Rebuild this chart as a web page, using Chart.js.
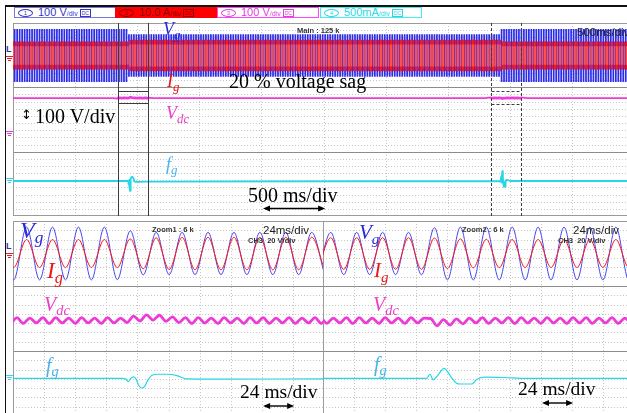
<!DOCTYPE html>
<html>
<head>
<meta charset="utf-8">
<title>Grid voltage sag response</title>
<script src="https://cdn.jsdelivr.net/npm/chart.js@4.4.1/dist/chart.umd.min.js"></script>
<style>
  html, body { margin:0; padding:0; background:#fff; overflow:hidden; }
  #scope { position:relative; width:627px; height:413px; overflow:hidden; background:#fff; }
  #scope canvas { position:absolute; }
  .rule { position:absolute; background:#111; }
  .chbox { position:absolute; top:7px; height:9px; width:100px; border:1px solid; box-sizing:content-box;
           font-family:"Liberation Sans", Arial, sans-serif; font-size:11px; line-height:9px; white-space:nowrap; overflow:hidden; }
  .chbox .num { display:inline-block; width:13px; height:6px; border:1px solid currentColor; border-radius:50%;
                font-size:6px; line-height:6px; text-align:center; margin:0 5px 0 3px; vertical-align:top; margin-top:0.5px; }
  .chbox .per { font-size:7px; }
  .chbox .ico { display:inline-block; font-size:5px; line-height:6px; border:1px solid currentColor; padding:0 1px; margin-left:2px; vertical-align:top; margin-top:0.5px; }
  .lab { position:absolute; font-family:"Liberation Serif", "Times New Roman", serif; line-height:1; white-space:nowrap; }
  .lab i { font-style:italic; }
  .lab .sub { font-style:italic; font-size:0.72em; position:relative; top:0.3em; }
  .txt { position:absolute; font-family:"Liberation Serif", "Times New Roman", serif; line-height:1; white-space:nowrap; color:#000; }
  .scr { position:absolute; font-family:"Liberation Sans", Arial, sans-serif; line-height:1; white-space:nowrap; color:#222; }
  .tiny { position:absolute; font-family:"Liberation Sans", Arial, sans-serif; font-weight:bold; font-size:7.5px; line-height:1; white-space:nowrap; color:#333; }
  .gnd { position:absolute; width:7px; height:7px; }
  .gnd b { display:block; height:1px; margin:0 auto 1px auto; }
</style>
</head>
<body>
<div id="scope">
  <div class="rule" style="left:5px;top:5px;width:622px;height:1.5px"></div>
  <div class="rule" style="left:5px;top:5px;width:1.2px;height:408px"></div>

  <div class="chbox" style="left:14px;border-color:#7878d8;color:#3636c8"><span class="num">1</span>100 V<span class="per">/div</span><span class="ico">DC</span></div>
  <div class="chbox" style="left:115px;border-color:#ff0000;background:#ff0000;color:#8a0000"><span class="num">2</span>10.0 A<span class="per">/div</span><span class="ico">DC</span></div>
  <div class="chbox" style="left:217px;border-color:#ff44ff;color:#e040e0"><span class="num">3</span>100 V<span class="per">/div</span><span class="ico">DC</span></div>
  <div class="chbox" style="left:320px;border-color:#40f0f0;color:#28d8e8"><span class="num">4</span>500mA<span class="per">/div</span><span class="ico">DC</span></div>

  <canvas id="mainView" width="621" height="193" style="left:13px;top:23px"></canvas>
  <canvas id="zoomView1" width="311" height="195" style="left:13px;top:221px"></canvas>
  <canvas id="zoomView2" width="311" height="195" style="left:323px;top:221px"></canvas>

  <!-- channel reference markers on the left edge -->
  <div class="scr" style="left:6px;top:45px;font-size:9px;font-weight:bold;color:#3030c8">L</div>
  <div class="gnd" style="left:6px;top:56px"><b style="width:7px;background:#e02020"></b><b style="width:5px;background:#e02020"></b><b style="width:3px;background:#e02020"></b></div>
  <div class="gnd" style="left:6px;top:131px"><b style="width:7px;background:#e040e0"></b><b style="width:5px;background:#e040e0"></b><b style="width:3px;background:#e040e0"></b></div>
  <div class="gnd" style="left:6px;top:178px"><b style="width:7px;background:#30d8e8"></b><b style="width:5px;background:#30d8e8"></b><b style="width:3px;background:#30d8e8"></b></div>
  <div class="scr" style="left:6px;top:242px;font-size:9px;font-weight:bold;color:#3030c8">L</div>
  <div class="gnd" style="left:6px;top:253px"><b style="width:7px;background:#e02020"></b><b style="width:5px;background:#e02020"></b><b style="width:3px;background:#e02020"></b></div>
  <div class="gnd" style="left:6px;top:375px"><b style="width:7px;background:#30d8e8"></b><b style="width:5px;background:#30d8e8"></b><b style="width:3px;background:#30d8e8"></b></div>

  <!-- main record annotations -->
  <div class="tiny" style="left:297px;top:27px">Main : 125 k</div>
  <div class="scr" style="left:577px;top:27px;font-size:11.5px">500ms/div</div>
  <div class="lab" style="left:163px;top:20px;font-size:18px;color:#2a2ad8"><i>V</i><span class="sub">g</span></div>
  <div class="lab" style="left:167px;top:72px;font-size:18px;color:#e81818"><i>I</i><span class="sub">g</span></div>
  <div class="txt" style="left:229px;top:71px;font-size:20px">20 % voltage sag</div>
  <div class="txt" style="left:21px;top:108px;font-size:13px;font-family:'DejaVu Sans',sans-serif">↕</div>
  <div class="txt" style="left:35px;top:106px;font-size:20px">100 V/div</div>
  <div class="lab" style="left:166px;top:104px;font-size:18px;color:#ee3cc8"><i>V</i><span class="sub">dc</span></div>
  <div class="lab" style="left:166px;top:155px;font-size:18px;color:#46b4ec"><i>f</i><span class="sub">g</span></div>
  <div class="txt" style="left:248px;top:185px;font-size:20px">500 ms/div</div>

  <!-- zoom window 1 annotations -->
  <div class="tiny" style="left:152px;top:226px">Zoom1 : 6 k</div>
  <div class="scr" style="left:263px;top:225px;font-size:11.5px">24ms/div</div>
  <div class="tiny" style="left:248px;top:237px">CH3&nbsp;&nbsp;20 V/div</div>
  <div class="lab" style="left:20px;top:218px;font-size:24px;color:#2a2ad8"><i>V</i><span class="sub">g</span></div>
  <div class="lab" style="left:47px;top:259px;font-size:23px;color:#e81818"><i>I</i><span class="sub">g</span></div>
  <div class="lab" style="left:44px;top:294px;font-size:20px;color:#ee3cc8"><i>V</i><span class="sub">dc</span></div>
  <div class="lab" style="left:46px;top:355px;font-size:20px;color:#46b4ec"><i>f</i><span class="sub">g</span></div>
  <div class="txt" style="left:240px;top:382px;font-size:19.5px">24 ms/div</div>

  <!-- zoom window 2 annotations -->
  <div class="tiny" style="left:462px;top:226px">Zoom2 : 6 k</div>
  <div class="scr" style="left:573px;top:225px;font-size:11.5px">24ms/div</div>
  <div class="tiny" style="left:558px;top:237px">CH3&nbsp;&nbsp;20 V/div</div>
  <div class="lab" style="left:359px;top:222px;font-size:21px;color:#2a2ad8"><i>V</i><span class="sub">g</span></div>
  <div class="lab" style="left:374px;top:260px;font-size:21px;color:#e81818"><i>I</i><span class="sub">g</span></div>
  <div class="lab" style="left:373px;top:294px;font-size:20px;color:#ee3cc8"><i>V</i><span class="sub">dc</span></div>
  <div class="lab" style="left:374px;top:354px;font-size:20px;color:#46b4ec"><i>f</i><span class="sub">g</span></div>
  <div class="txt" style="left:518px;top:379px;font-size:19.5px">24 ms/div</div>
</div>

<script>
// ---- record timing (ms) ----
const recordSpan = [0, 5000];          // 10 div x 500 ms
const zoomStart = [843, 3847];         // zoom window start times
const zoomSpan = 240;                  // 10 div x 24 ms

// ---- 50 Hz cycle envelope over the record: sag from 928 ms to 3929 ms ----
const segmentStart = [0, 928, 3929];
const vgSegmentPeak = [325, 260, 325];     // grid voltage peak, V
const igSegmentPeak = [17.2, 19.5, 17.2];  // grid current peak, A
const vgPeakPhase = 13.5;                  // ms of a positive peak within each 20 ms cycle
const cyclePeriod = 20;

// ---- zoom window 1: half-cycle extrema (sag onset) ----
const z1PeakTimes = [833.5, 843.5, 853.5, 863.5, 873.5, 883.5, 893.5, 903.5, 913.5, 923.5, 933.5, 943.5, 953.5,
                     963.5, 973.5, 983.5, 993.5, 1003.5, 1013.5, 1023.5, 1033.5, 1043.5, 1053.5, 1063.5, 1073.5, 1083.5];
const z1Vg = [325, -325, 325, -325, 325, -325, 325, -325, 325, -322, 280, -264, 260,
              -260, 260, -260, 260, -260, 260, -260, 260, -260, 260, -260, 260, -260];
const z1Ig = [17.2, -17.2, 17.2, -17.2, 17.2, -17.2, 17.2, -17.2, 17.2, -17.3, 18.0, -18.8, 19.3,
              -19.6, 19.8, -20.0, 20.0, -20.0, 20.1, -20.0, 20.0, -20.1, 20.0, -20.0, 20.0, -20.0];

// ---- zoom window 2: half-cycle extrema (recovery) ----
const z2PeakTimes = [3843, 3853, 3863, 3873, 3883, 3893, 3903, 3913, 3923, 3933, 3943, 3953, 3963,
                     3973, 3983, 3993, 4003, 4013, 4023, 4033, 4043, 4053, 4063, 4073, 4083, 4093];
const z2Vg = [-260, 260, -260, 260, -260, 260, -260, 260, -262, 318, -325, 325, -325,
              325, -325, 325, -325, 325, -325, 325, -325, 325, -325, 325, -325, 325];
const z2Ig = [-19.5, 19.4, -19.5, 19.4, -19.5, 19.5, -19.4, 19.5, -19.5, 19.0, -18.5, 18.0, -17.7,
              17.5, -17.3, 17.2, -17.2, 17.2, -17.2, 17.2, -17.2, 17.2, -17.2, 17.2, -17.2, 17.2];

// ---- DC-link voltage (V): 100 Hz ripple extrema in the zoom windows ----
const vdcTimes = [0, 800,
  841, 846, 851, 856, 861, 866, 871, 876, 881, 886, 891, 896, 901, 906, 911, 916, 921, 926, 931, 936, 941, 946, 951, 956, 961,
  966, 971, 976, 981, 986, 991, 996, 1001, 1006, 1011, 1016, 1021, 1026, 1031, 1036, 1041, 1046, 1051, 1056, 1061, 1066, 1071, 1076, 1081, 1086,
  1130, 3800,
  3845, 3850, 3855, 3860, 3865, 3870, 3875, 3880, 3885, 3890, 3895, 3900, 3905, 3910, 3915, 3920, 3925, 3930, 3935, 3940, 3945,
  3950, 3955, 3960, 3965, 3970, 3975, 3980, 3985, 3990, 3995, 4000, 4005, 4010, 4015, 4020, 4025, 4030, 4035, 4040, 4045, 4050, 4055, 4060, 4065,
  4070, 4075, 4080, 4085, 4090,
  4140, 5000];
const vdcVolts = [450, 450,
  444, 457, 443, 456, 444, 457, 443, 457, 444, 456, 443, 457, 444, 456, 443, 457, 444, 456, 445, 461, 449,
  464, 451, 463, 448, 459, 445, 457, 443, 457, 444, 456, 443, 457, 444, 456, 443, 457, 444, 457, 443, 456, 444, 457, 443, 456, 444, 457, 443, 456,
  450, 450,
  457, 443, 456, 444, 457, 443, 457, 444, 456, 443, 457, 444, 456, 443, 457, 444, 456, 455, 437, 452, 439,
  454, 442, 456, 444, 457, 443, 456, 444, 457, 443, 457, 444, 456, 443, 457, 444, 456, 443, 457, 444, 457, 443, 456, 444,
  457, 443, 456, 444, 457,
  450, 450];

// ---- estimated grid frequency (Hz) ----
const fgTimes = [0, 927, 930, 932, 934, 936, 938, 940, 942.5, 945, 947, 950, 955, 963, 970, 977, 1003, 1083,
                 3927, 3929.5, 3932, 3935, 3940.5, 3944, 3946.5, 3950, 3953, 3962, 3965.5, 3972, 3987, 4002, 5000];
const fgHz = [50, 50, 49.98, 49.92, 50.0, 50.035, 49.98, 49.83, 49.755, 49.82, 49.95, 50.07, 50.1, 50.1, 50.06, 49.985, 49.98, 49.985,
              50, 50.1, 49.96, 50.05, 50.245, 50.12, 50.0, 49.88, 49.86, 49.86, 49.97, 50.03, 50.02, 50.0, 50.0];

// ---- channel vertical settings: units per div, reference value and its div from the top ----
const panelDivsX = 10, panelDivsY = 24;
const mainChannels = { vg: [100, 0, 4.04], ig: [10, 0, 4.04], vdc: [100, 450, 9.33], fg: [0.2, 50, 19.65] };
const zoomChannels = { vg: [100, 0, 4.0], ig: [10, 0, 4.0], vdc: [20, 450, 12.25], fg: [0.2, 50, 19.36] };

const colors = { vg: '#2b2bea', vgThin: '#4646f2', ig: '#ff1414', igFill: '#ff5050', vdc: '#ee3ad8', fg: '#26d6e6' };

function channelAxis([perDiv, refValue, refDiv]) {
  const max = refValue + refDiv * perDiv;
  return { type: 'linear', display: false, min: max - panelDivsY * perDiv, max: max };
}
const pairs = (xs, ys) => xs.map((x, i) => ({ x: x, y: ys[i] }));
function segmentValue(t, peaks) {
  let v = peaks[0];
  segmentStart.forEach((s, i) => { if (t >= s) v = peaks[i]; });
  return v;
}

// one bar per 50 Hz cycle spanning the cycle's negative to positive peak
const cycleStarts = [];
for (let t = recordSpan[0]; t < recordSpan[1]; t += cyclePeriod) cycleStarts.push(t);
const vgCycleBars = cycleStarts.map(t => {
  const tp = t + vgPeakPhase, a = segmentValue(tp, vgSegmentPeak);
  return { x: tp, y: [-a, a] };
});
const igCycleBars = cycleStarts.map(t => {
  const tp = t + vgPeakPhase - cyclePeriod / 2, a = segmentValue(tp, igSegmentPeak);
  return { x: tp, y: [-a, a] };
});

// dotted scope graticule: 3 stacked sections with their own sub-division rows
const scopeGrid = {
  id: 'scopeGrid',
  beforeDatasetsDraw(chart, args, opts) {
    const { ctx, chartArea: a } = chart;
    const w = a.right - a.left, h = a.bottom - a.top;
    const sections = 3, rows = opts.rowsPerSection;
    const line = (x1, y1, x2, y2) => { ctx.beginPath(); ctx.moveTo(x1, y1); ctx.lineTo(x2, y2); ctx.stroke(); };
    ctx.save();
    ctx.lineWidth = 1;
    ctx.strokeStyle = '#c6c6c6';
    ctx.setLineDash([1, 2]);
    for (let i = 1; i < panelDivsX; i++) {
      const x = Math.round(a.left + i * w / panelDivsX) + 0.5;
      line(x, a.top, x, a.bottom);
    }
    for (let s = 0; s < sections; s++) {
      for (let j = 1; j < rows; j++) {
        const y = Math.round(a.top + (s + j / rows) * h / sections) + 0.5;
        line(a.left, y, a.right, y);
      }
    }
    ctx.setLineDash([]);
    ctx.strokeStyle = '#8c8c8c';
    for (let s = 1; s < sections; s++) {
      const y = Math.round(a.top + s * h / sections) + 0.5;
      line(a.left, y, a.right, y);
    }
    ctx.strokeStyle = '#9a9a9a';
    ctx.strokeRect(a.left + 0.5, a.top + 0.5, w - 1, h - 1);
    ctx.restore();
  }
};

// time-span arrow and zoom-window cursors
const scopeMarks = {
  id: 'scopeMarks',
  afterDatasetsDraw(chart, args, opts) {
    const { ctx, chartArea: a, scales } = chart;
    const x = scales.x;
    ctx.save();
    if (opts.windows) {
      opts.windows.forEach(win => {
        const x1 = Math.round(x.getPixelForValue(win.from)) + 0.5;
        const x2 = Math.round(x.getPixelForValue(win.from + zoomSpan)) + 0.5;
        ctx.strokeStyle = '#3c3c3c';
        ctx.lineWidth = 1;
        ctx.setLineDash(win.dashed ? [3, 2] : []);
        ctx.beginPath();
        ctx.moveTo(x1, a.top); ctx.lineTo(x1, a.bottom);
        ctx.moveTo(x2, a.top); ctx.lineTo(x2, a.bottom);
        win.boxDivs.forEach(d => {
          const y = Math.round(a.top + d * (a.bottom - a.top) / panelDivsY) + 0.5;
          ctx.moveTo(x1, y); ctx.lineTo(x2, y);
        });
        ctx.stroke();
      });
    }
    if (opts.arrow) {
      const { from, to, yOffset } = opts.arrow;
      const xa = x.getPixelForValue(from), xb = x.getPixelForValue(to), y = a.top + yOffset;
      ctx.setLineDash([]);
      ctx.strokeStyle = '#000'; ctx.fillStyle = '#000'; ctx.lineWidth = 1.4;
      ctx.beginPath(); ctx.moveTo(xa + 4, y); ctx.lineTo(xb - 4, y); ctx.stroke();
      ctx.beginPath(); ctx.moveTo(xa, y); ctx.lineTo(xa + 7, y - 3); ctx.lineTo(xa + 7, y + 3); ctx.closePath(); ctx.fill();
      ctx.beginPath(); ctx.moveTo(xb, y); ctx.lineTo(xb - 7, y - 3); ctx.lineTo(xb - 7, y + 3); ctx.closePath(); ctx.fill();
    }
    ctx.restore();
  }
};

const common = {
  responsive: false,
  animation: false,
  events: [],
  layout: { padding: 0 },
  elements: { point: { radius: 0 }, line: { borderJoinStyle: 'round' } },
  plugins: { legend: { display: false }, tooltip: { enabled: false }, title: { display: false } }
};

// full 5 s record
new Chart(document.getElementById('mainView'), {
  type: 'bar',
  data: {
    datasets: [
      { type: 'bar', data: vgCycleBars, yAxisID: 'yVg', backgroundColor: colors.vg, borderWidth: 0,
        barThickness: 1.05, grouped: false, order: 4 },
      { type: 'bar', data: igCycleBars, yAxisID: 'yIg', backgroundColor: colors.igFill, borderColor: colors.ig,
        borderWidth: { top: 5, bottom: 5, left: 0, right: 0 }, borderSkipped: false,
        barThickness: 2, grouped: false, order: 3 },
      { type: 'line', data: pairs(vdcTimes, vdcVolts), yAxisID: 'yVdc', borderColor: colors.vdc, borderWidth: 1.8,
        borderJoinStyle: 'round', order: 2 },
      { type: 'line', data: pairs(fgTimes, fgHz), yAxisID: 'yFg', borderColor: colors.fg, borderWidth: 1.8,
        borderJoinStyle: 'round', order: 1 }
    ]
  },
  options: Object.assign({}, common, {
    scales: {
      x: { type: 'linear', display: false, min: recordSpan[0], max: recordSpan[1], offset: false },
      yVg: channelAxis(mainChannels.vg),
      yIg: channelAxis(mainChannels.ig),
      yVdc: channelAxis(mainChannels.vdc),
      yFg: channelAxis(mainChannels.fg)
    },
    plugins: Object.assign({}, common.plugins, {
      scopeGrid: { rowsPerSection: 9 },
      scopeMarks: {
        windows: [
          { from: zoomStart[0], dashed: false, boxDivs: [8.46, 9.95] },
          { from: zoomStart[1], dashed: true, boxDivs: [8.46, 10.07] }
        ],
        arrow: { from: 2013, to: 2513, yOffset: 185.5 }
      }
    })
  }),
  plugins: [scopeGrid, scopeMarks]
});

// zoomed windows
function zoomChart(id, start, times, vg, ig, arrow) {
  new Chart(document.getElementById(id), {
    type: 'line',
    data: {
      datasets: [
        { data: pairs(times, vg), yAxisID: 'yVg', borderColor: colors.vgThin, borderWidth: 1,
          cubicInterpolationMode: 'monotone', order: 4 },
        { data: pairs(times, ig), yAxisID: 'yIg', borderColor: colors.ig, borderWidth: 1,
          cubicInterpolationMode: 'monotone', order: 3 },
        { data: pairs(vdcTimes, vdcVolts), yAxisID: 'yVdc', borderColor: colors.vdc, borderWidth: 2.8,
          cubicInterpolationMode: 'monotone', order: 2 },
        { data: pairs(fgTimes, fgHz), yAxisID: 'yFg', borderColor: colors.fg, borderWidth: 1.2,
          cubicInterpolationMode: 'monotone', order: 1 }
      ]
    },
    options: Object.assign({}, common, {
      scales: {
        x: { type: 'linear', display: false, min: start, max: start + zoomSpan },
        yVg: channelAxis(zoomChannels.vg),
        yIg: channelAxis(zoomChannels.ig),
        yVdc: channelAxis(zoomChannels.vdc),
        yFg: channelAxis(zoomChannels.fg)
      },
      plugins: Object.assign({}, common.plugins, { scopeGrid: { rowsPerSection: 7 }, scopeMarks: { arrow: arrow } })
    }),
    plugins: [scopeGrid, scopeMarks]
  });
}
zoomChart('zoomView1', zoomStart[0], z1PeakTimes, z1Vg, z1Ig, { from: zoomStart[0] + 193, to: zoomStart[0] + 217, yOffset: 185 });
zoomChart('zoomView2', zoomStart[1], z2PeakTimes, z2Vg, z2Ig, { from: zoomStart[1] + 169, to: zoomStart[1] + 193, yOffset: 182 });
</script>
</body>
</html>
